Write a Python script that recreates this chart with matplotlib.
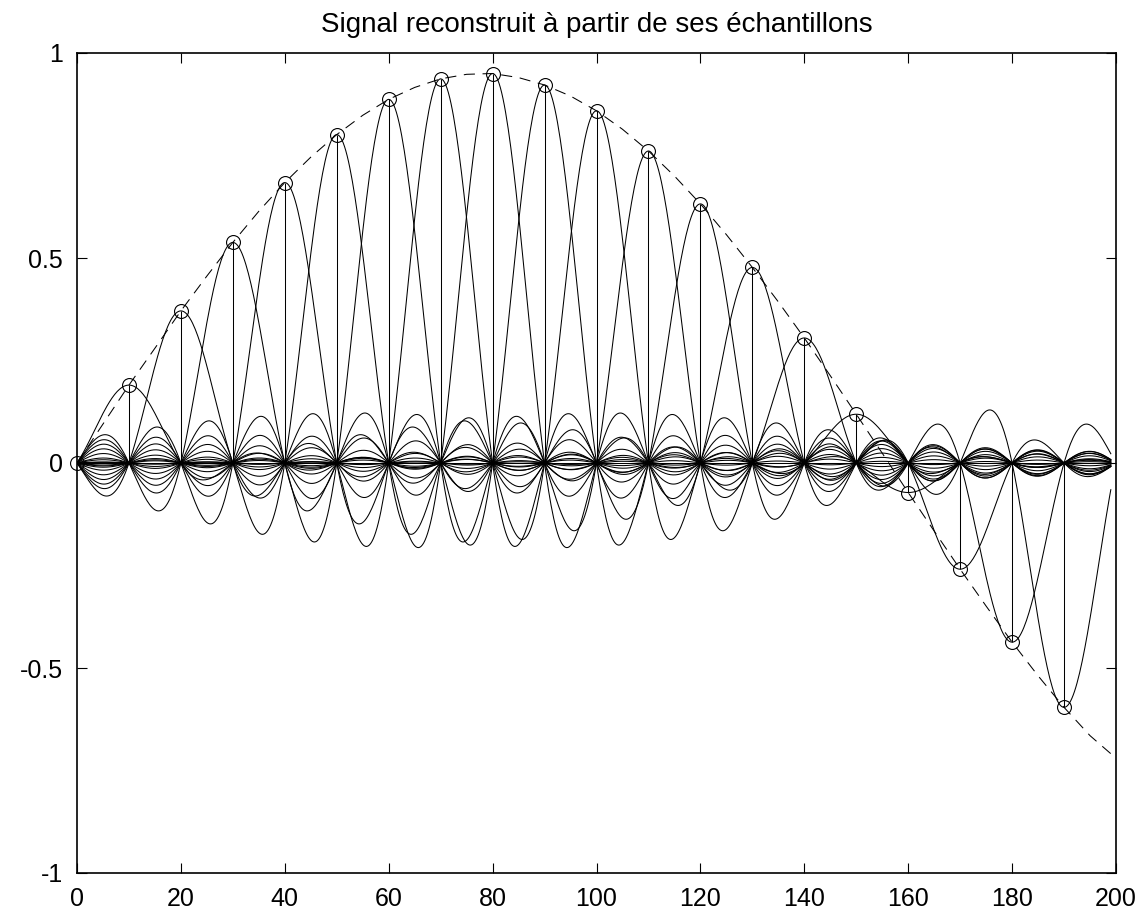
import matplotlib
matplotlib.use("Agg")
import matplotlib.pyplot as plt
import numpy as np

plt.rcParams["font.family"] = ["Liberation Sans", "DejaVu Sans"]
plt.rcParams["lines.scale_dashes"] = False

# Sample instants and values
sample_t = np.arange(0, 200, 10)
sample_x = [0.0, 0.190, 0.371, 0.538, 0.684, 0.801, 0.887, 0.937, 0.950, 0.922,
            0.859, 0.761, 0.632, 0.477, 0.305, 0.119, -0.072, -0.259, -0.437, -0.596]

# Original (dashed) signal, read every 5 units
signal_t = np.arange(0, 205, 5)
signal_x = [0.0, 0.095, 0.190, 0.280, 0.371, 0.456, 0.538, 0.614, 0.684, 0.746,
            0.801, 0.848, 0.887, 0.916, 0.937, 0.948, 0.950, 0.940, 0.922, 0.895,
            0.859, 0.814, 0.761, 0.700, 0.632, 0.557, 0.477, 0.393, 0.305, 0.213,
            0.119, 0.024, -0.072, -0.166, -0.259, -0.349, -0.437, -0.519, -0.596,
            -0.665, -0.720]

period = 10
t = np.arange(0, 199.001, 0.25)

fig, ax = plt.subplots(figsize=(11.46, 9.14), dpi=100)
fig.subplots_adjust(left=77 / 1146, right=1116 / 1146, bottom=1 - 873 / 914, top=1 - 53 / 914)

# One weighted sinc per sample
for tk, xk in zip(sample_t, sample_x):
    ax.plot(t, xk * np.sinc((t - tk) / period), color="black", lw=0.75)

# Stems and circles
ax.vlines(sample_t, 0, sample_x, color="black", lw=0.75)
ax.plot(sample_t, sample_x, "o", mfc="none", mec="black", ms=10, mew=0.8, clip_on=False)

# Original signal
ax.plot(signal_t, signal_x, color="black", lw=0.75, dashes=(8, 5.5))

ax.set_xlim(0, 200)
ax.set_ylim(-1, 1)
ax.set_xticks(np.arange(0, 201, 20))
ax.set_yticks([-1, -0.5, 0, 0.5, 1])
ax.set_yticklabels(["-1", "-0.5", "0", "0.5", "1"])
ax.tick_params(direction="in", length=7, width=0.8, labelsize=18, top=True, right=True)
ax.tick_params(axis="x", pad=10)
ax.tick_params(axis="y", pad=10)
for s in ax.spines.values():
    s.set_linewidth(1.2)

ax.set_title("Signal reconstruit à partir de ses échantillons", fontsize=20, pad=15)

fig.savefig("out.png", dpi=100)
